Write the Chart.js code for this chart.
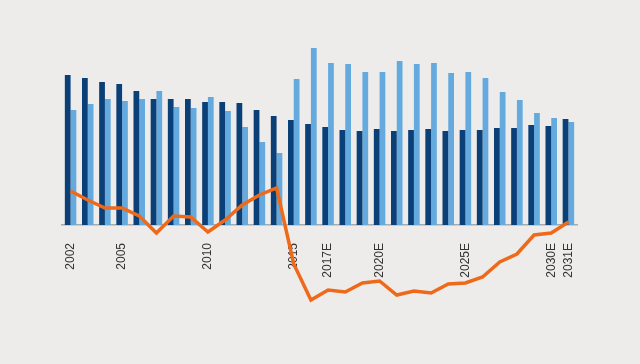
<!DOCTYPE html>
<html>
<head>
<meta charset="utf-8">
<script src="https://cdn.jsdelivr.net/npm/chart.js@4"></script>
<style>
  html, body { margin: 0; padding: 0; background: #edecea; }
  #wrap { width: 640px; height: 364px; position: relative; }
</style>
</head>
<body>
<div id="wrap"><canvas id="chartMain"></canvas></div>
<script>
var anos = ["2002","2003","2004","2005","2006","2007","2008","2009","2010","2011",
            "2012","2013","2014","2015","2016","2017E","2018E","2019E","2020E","2021E",
            "2022E","2023E","2024E","2025E","2026E","2027E","2028E","2029E","2030E","2031E"];
var rotulos = ["2002","2005","2010","2015","2017E","2020E","2025E","2030E","2031E"];

var serieEscura = [15.0,14.7,14.3,14.1,13.4,12.6,12.6,12.6,12.3,12.3,
                   12.2,11.5,10.9,10.5,10.1,9.8,9.5,9.4,9.6,9.4,
                   9.5,9.6,9.4,9.5,9.5,9.7,9.7,10.0,9.9,10.6];
var serieClara = [11.5,12.1,12.6,12.4,12.6,13.4,11.8,11.7,12.8,11.4,
                  9.8,8.3,7.2,14.6,17.7,16.2,16.1,15.3,15.3,16.4,
                  16.1,16.2,15.2,15.3,14.7,13.3,12.5,11.2,10.7,10.3];
var linha = [3.4,2.5,1.7,1.7,0.9,-0.8,0.9,0.8,-0.7,0.5,
             2.0,3.0,3.7,-3.9,-7.5,-6.5,-6.7,-5.8,-5.6,-7.0,
             -6.6,-6.8,-5.9,-5.8,-5.2,-3.7,-2.9,-1.0,-0.8,0.3];

function plot(){
  var ctx = document.getElementById("chartMain");
  new Chart(ctx, {
    type: 'bar',
    data: {
      labels: anos,
      datasets: [
        {
          type: 'line',
          data: linha,
          borderColor: '#ee6a1a',
          borderWidth: 3.5,
          pointRadius: 0,
          tension: 0,
          fill: false,
          order: 0
        },
        {
          data: serieEscura,
          backgroundColor: '#0a3f77',
          borderWidth: 0,
          categoryPercentage: 0.67,
          barPercentage: 1.0,
          order: 1
        },
        {
          data: serieClara,
          backgroundColor: '#64aade',
          borderWidth: 0,
          categoryPercentage: 0.67,
          barPercentage: 1.0,
          order: 2
        }
      ]
    },
    options: {
      responsive: true,
      maintainAspectRatio: false,
      animation: false,
      layout: { padding: { left: 62, right: 63, top: 25, bottom: 49 } },
      plugins: { legend: { display: false }, tooltip: { enabled: false } },
      scales: {
        x: {
          position: { y: 0 },
          grid: { display: false },
          border: { display: true, color: '#aaaaaa', width: 1.5 },
          ticks: {
            autoSkip: false,
            maxRotation: 90,
            minRotation: 90,
            padding: 10,
            color: '#333333',
            font: { family: "'Liberation Sans', Arial, sans-serif", size: 12 },
            callback: function (v, i) {
              var l = anos[i];
              return rotulos.indexOf(l) >= 0 ? l : '';
            }
          }
        },
        y: {
          display: false,
          min: -9,
          max: 20
        }
      }
    }
  });
}

plot();
</script>
</body>
</html>
